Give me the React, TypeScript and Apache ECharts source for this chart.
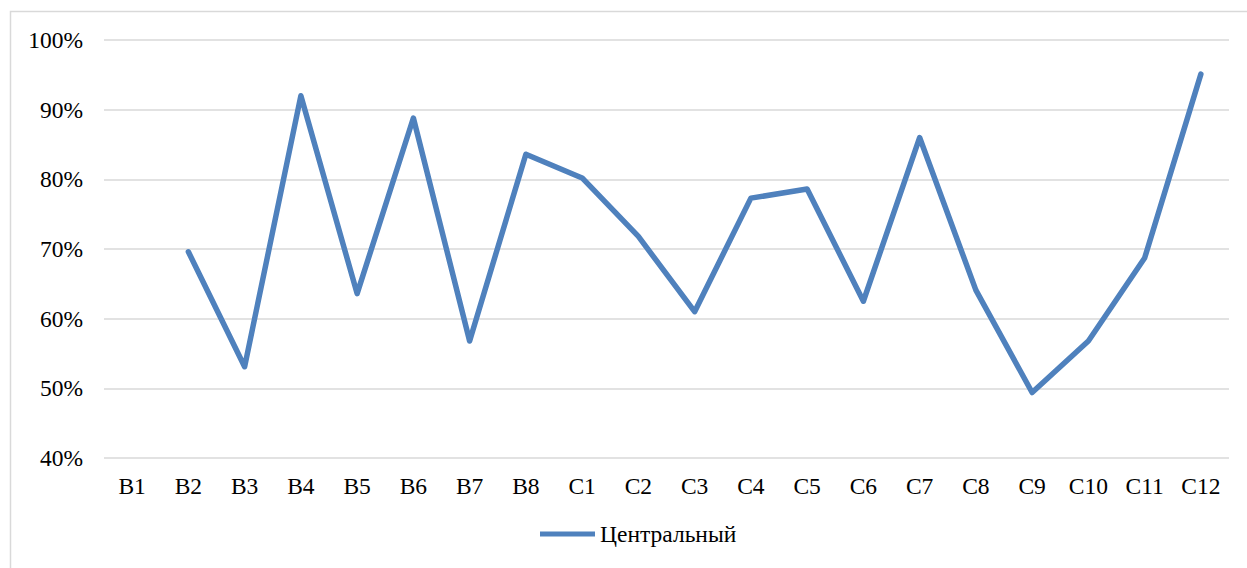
import React, { useEffect, useRef } from "react";
import * as echarts from "echarts";

const categories = ["B1", "B2", "B3", "B4", "B5", "B6", "B7", "B8", "C1", "C2", "C3", "C4", "C5", "C6", "C7", "C8", "C9", "C10", "C11", "C12"];
const seriesName = "Центральный";
const values: (number | null)[] = [null, 69.6, 53.1, 92.0, 63.6, 88.8, 56.8, 83.6, 80.2, 71.8, 61.0, 77.3, 78.6, 62.5, 86.0, 64.1, 49.4, 56.8, 68.7, 95.1];

const FONT = "Times New Roman, Liberation Serif, serif";

export default function App() {
  const ref = useRef<HTMLDivElement>(null);
  useEffect(() => {
    if (!ref.current) return;
    const chart = echarts.init(ref.current, null, { renderer: "svg" });
    chart.setOption({
      animation: false,
      backgroundColor: "#ffffff",
      textStyle: { fontFamily: FONT },
      graphic: [
        {
          type: "rect",
          shape: { x: 10.5, y: 11.5, width: 1300, height: 700 },
          style: { fill: "none", stroke: "#d9d9d9", lineWidth: 1.5 },
          silent: true,
        },
      ],
      grid: { left: 104, right: 18, top: 40, bottom: 110, containLabel: false },
      xAxis: {
        type: "category",
        data: categories,
        boundaryGap: true,
        axisLine: { show: false },
        axisTick: { show: false },
        axisLabel: { fontFamily: FONT, fontSize: 23.5, color: "#000", margin: 16 },
      },
      yAxis: {
        type: "value",
        min: 40,
        max: 100,
        interval: 10,
        axisLine: { show: false },
        axisTick: { show: false },
        splitLine: { lineStyle: { color: "#d9d9d9", width: 1.5 } },
        axisLabel: { fontFamily: FONT, fontSize: 23.5, color: "#000", margin: 21, formatter: "{value}%" },
      },
      legend: {
        left: 540,
        top: 522,
        padding: 0,
        icon: "rect",
        itemWidth: 55,
        itemHeight: 5,
        itemGap: 10,
        itemStyle: { color: "#4f81bd" },
        textStyle: { fontFamily: FONT, fontSize: 23.5, color: "#000", padding: [0, 0, 0, 0] },
        data: [seriesName],
      },
      series: [
        {
          name: seriesName,
          type: "line",
          data: values,
          symbol: "none",
          connectNulls: false,
          lineStyle: { color: "#4f81bd", width: 5.5, cap: "round", join: "round" },
          itemStyle: { color: "#4f81bd" },
        },
      ],
    });
    return () => chart.dispose();
  }, []);
  return <div ref={ref} style={{ position: "fixed", left: 0, top: 0, width: 1247, height: 568 }} />;
}
